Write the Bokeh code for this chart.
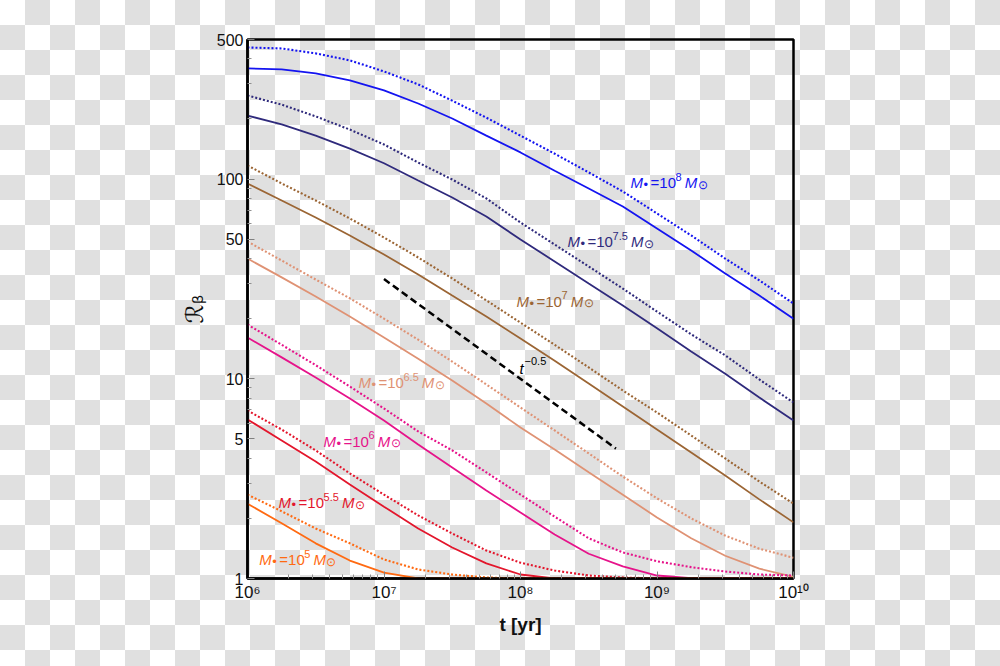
from bokeh.plotting import figure
from bokeh.models import FixedTicker, BasicTickFormatter, GlobalInlineStyleSheet
from bokeh.core.properties import value
from bokeh.embed import file_html
from bokeh.resources import INLINE

# ---- data ----
t_yr = [1.0e6, 1.78e6, 3.16e6, 5.62e6, 1.0e7, 1.78e7, 3.16e7, 5.62e7, 1.0e8,
        1.78e8, 3.16e8, 5.62e8, 1.0e9, 1.78e9, 3.16e9, 5.62e9, 1.0e10]

mass_exponents = ["8", "7.5", "7", "6.5", "6", "5.5", "5"]

R_solid_8 = [358, 354, 338, 312, 278, 239, 201, 165, 136, 110, 89.7, 72.9, 56.6, 43.9, 33.7, 26.1, 20.0]
R_dotted_8 = [456, 451, 426, 393, 346, 298, 247, 203, 165, 134, 108, 86.7, 67.3, 52.2, 40.0, 31.1, 23.8]
R_solid_75 = [208, 188, 165, 142, 120, 98.4, 80.9, 65.0, 49.8, 38.7, 30.0, 23.3, 17.9, 13.7, 10.6, 8.06, 6.18]
R_dotted_75 = [262, 236, 206, 177, 149, 121, 99.5, 80.0, 60.6, 47.0, 36.5, 28.3, 21.7, 16.7, 13.1, 9.92, 7.61]
R_solid_7 = [95.1, 78.1, 64.2, 52.2, 41.9, 33.3, 26.1, 20.5, 15.9, 12.3, 9.47, 7.26, 5.57, 4.27, 3.28, 2.49, 1.91]
R_dotted_7 = [117, 95.1, 78.1, 63.5, 51.0, 40.5, 31.8, 24.7, 19.1, 14.8, 11.4, 8.74, 6.78, 5.20, 3.99, 3.06, 2.37]
R_solid_65 = [40.0, 32.2, 25.8, 20.5, 16.1, 12.6, 9.80, 7.52, 5.70, 4.43, 3.40, 2.63, 2.02, 1.59, 1.30, 1.12, 1.02]
R_dotted_65 = [48.7, 39.1, 31.4, 25.3, 20.0, 15.7, 12.2, 9.37, 7.18, 5.51, 4.23, 3.24, 2.52, 2.00, 1.64, 1.41, 1.27]
R_solid_6 = [16.1, 12.8, 10.15, 7.97, 6.18, 4.69, 3.60, 2.76, 2.14, 1.66, 1.33, 1.15, 1.035, 1.005, 1.0, 1.0, 1.0]
R_dotted_6 = [18.7, 14.8, 11.7, 9.15, 7.10, 5.45, 4.38, 3.40, 2.63, 2.04, 1.59, 1.35, 1.22, 1.14, 1.084, 1.047, 1.035]
R_solid_55 = [6.26, 4.91, 3.85, 2.96, 2.29, 1.78, 1.43, 1.19, 1.047, 1.0, 1.0, 1.0, 1.0, 1.0, 1.0, 1.0, 1.0]
R_dotted_55 = [6.94, 5.57, 4.38, 3.36, 2.63, 2.07, 1.68, 1.38, 1.20, 1.096, 1.035, 1.012, 1.0, 1.0, 1.0, 1.0, 1.0]
R_solid_5 = [2.37, 1.89, 1.50, 1.23, 1.07, 1.0, 1.0, 1.0, 1.0, 1.0, 1.0, 1.0, 1.0, 1.0, 1.0, 1.0, 1.0]
R_dotted_5 = [2.63, 2.17, 1.78, 1.50, 1.245, 1.11, 1.047, 1.012, 1.0, 1.0, 1.0, 1.0, 1.0, 1.0, 1.0, 1.0, 1.0]

solid_series = [R_solid_8, R_solid_75, R_solid_7, R_solid_65, R_solid_6, R_solid_55, R_solid_5]
dotted_series = [R_dotted_8, R_dotted_75, R_dotted_7, R_dotted_65, R_dotted_6, R_dotted_55, R_dotted_5]

# t^-0.5 guide line
guide_t = [1.0e7, 5.0e8]
guide_R = [31.6, 4.47]

# label anchors (start of the text, baseline)
label_t = [6.4e8, 2.21e8, 9.35e7, 6.5e6, 3.6e6, 1.69e6, 1.22e6]
label_R = [96.0, 48.6, 24.4, 9.58, 4.86, 2.40, 1.24]
guide_label_t = [9.84e7]
guide_label_R = [11.3]

x_ticks = [1e6, 1e7, 1e8, 1e9, 1e10]
x_tick_labels = ["10⁶", "10⁷", "10⁸", "10⁹", "10¹⁰"]
y_ticks = [1, 5, 10, 50, 100, 500]
y_tick_labels = ["1", "5", "10", "50", "100", "500"]

# ---- styling ----
colors = ["#1414f0", "#2f2a7c", "#9b6534", "#df9274", "#e6138a", "#e3162c", "#ff6a12"]
FONT = value("Liberation Sans")

p = figure(width=992, height=658, x_axis_type="log", y_axis_type="log",
           x_range=(1e6, 1e10), y_range=(1, 500),
           output_backend="svg", toolbar_location=None,
           min_border_left=247, min_border_right=199,
           min_border_top=39, min_border_bottom=80)

p.stylesheets = [GlobalInlineStyleSheet(css=(
    "html{background: repeating-conic-gradient(#e0e0e0 0% 25%, #ffffff 0% 50%) 0 0 / 50px 50px;}"))]

p.background_fill_alpha = 0
p.border_fill_alpha = 0
p.grid.visible = False
p.outline_line_color = "black"
p.outline_line_width = 2.5
p.outline_line_alpha = 1.0

x_minor = [m * 10 ** k for k in range(6, 10) for m in range(2, 10)]
y_minor = [m * 10 ** k for k in range(0, 3) for m in range(2, 10) if m * 10 ** k < 500 and m != 5]

p.xaxis.ticker = FixedTicker(ticks=x_ticks, minor_ticks=x_minor)
p.yaxis.ticker = FixedTicker(ticks=y_ticks, minor_ticks=y_minor)
p.xaxis.formatter = BasicTickFormatter()
p.yaxis.formatter = BasicTickFormatter()
p.xaxis.major_label_overrides = {int(v): s for v, s in zip(x_ticks, x_tick_labels)}
p.yaxis.major_label_overrides = {int(v): s for v, s in zip(y_ticks, y_tick_labels)}

for ax in (p.xaxis, p.yaxis):
    ax.axis_line_color = "black"
    ax.axis_line_width = 2.5
    ax.major_tick_in = 7
    ax.major_tick_out = 0
    ax.minor_tick_in = 4
    ax.minor_tick_out = 0
    ax.major_tick_line_color = "#808080"
    ax.minor_tick_line_color = "#909090"
    ax.major_label_text_font = "Liberation Sans"
    ax.major_label_text_color = "#111111"
    ax.major_label_standoff = 4

p.xaxis.major_label_text_font_size = "17px"
p.yaxis.major_label_text_font_size = "16px"

p.xaxis.axis_label = "t [yr]"
p.xaxis.axis_label_text_font = "Liberation Sans"
p.xaxis.axis_label_text_font_style = "bold"
p.xaxis.axis_label_text_font_size = "19px"
p.xaxis.axis_label_text_color = "#111111"
p.xaxis.axis_label_standoff = 9

p.yaxis.axis_label = "ℛᵦ"
p.yaxis.axis_label_text_font = "DejaVu Sans"
p.yaxis.axis_label_text_font_style = "normal"
p.yaxis.axis_label_text_font_size = "24px"
p.yaxis.axis_label_text_color = "#111111"
p.yaxis.axis_label_standoff = 5

# ---- curves ----
for c, s, d in zip(colors, solid_series, dotted_series):
    p.line(t_yr, s, line_color=c, line_width=1.8)
    p.line(t_yr, d, line_color=c, line_width=2.1, line_dash="2 2")

p.line(guide_t, guide_R, line_color="black", line_width=2.5, line_dash="7 4")

# ---- labels ----
for tx, ry, e, c in zip(label_t, label_R, mass_exponents, colors):
    ew = 6.2 if len(e) == 1 else 15.4
    parts = [("M", "15px", "italic", 0, 0),
             ("•", "13px", "normal", 13, 2),
             ("=10", "15px", "normal", 20, 0),
             (e, "11px", "normal", 45, -6),
             ("M", "15px", "italic", 45 + ew + 3, 0),
             ("⊙", "12px", "normal", 45 + ew + 3 + 13, 2)]
    for txt, fs, st, dx, dy in parts:
        p.text(x=[tx], y=[ry], text=[txt], text_font=FONT, text_font_size=fs,
               text_font_style=st, text_color=c, x_offset=dx, y_offset=dy,
               text_align="left", text_baseline="alphabetic")

p.text(x=guide_label_t, y=guide_label_R, text=["t"], text_font=FONT, text_font_size="15px",
       text_font_style="italic", text_color="black", text_align="left", text_baseline="alphabetic")
p.text(x=guide_label_t, y=guide_label_R, text=["−0.5"], text_font=FONT, text_font_size="11px",
       text_color="black", x_offset=5, y_offset=-7, text_align="left", text_baseline="alphabetic")

open("out.html", "w").write(file_html(p, INLINE))
